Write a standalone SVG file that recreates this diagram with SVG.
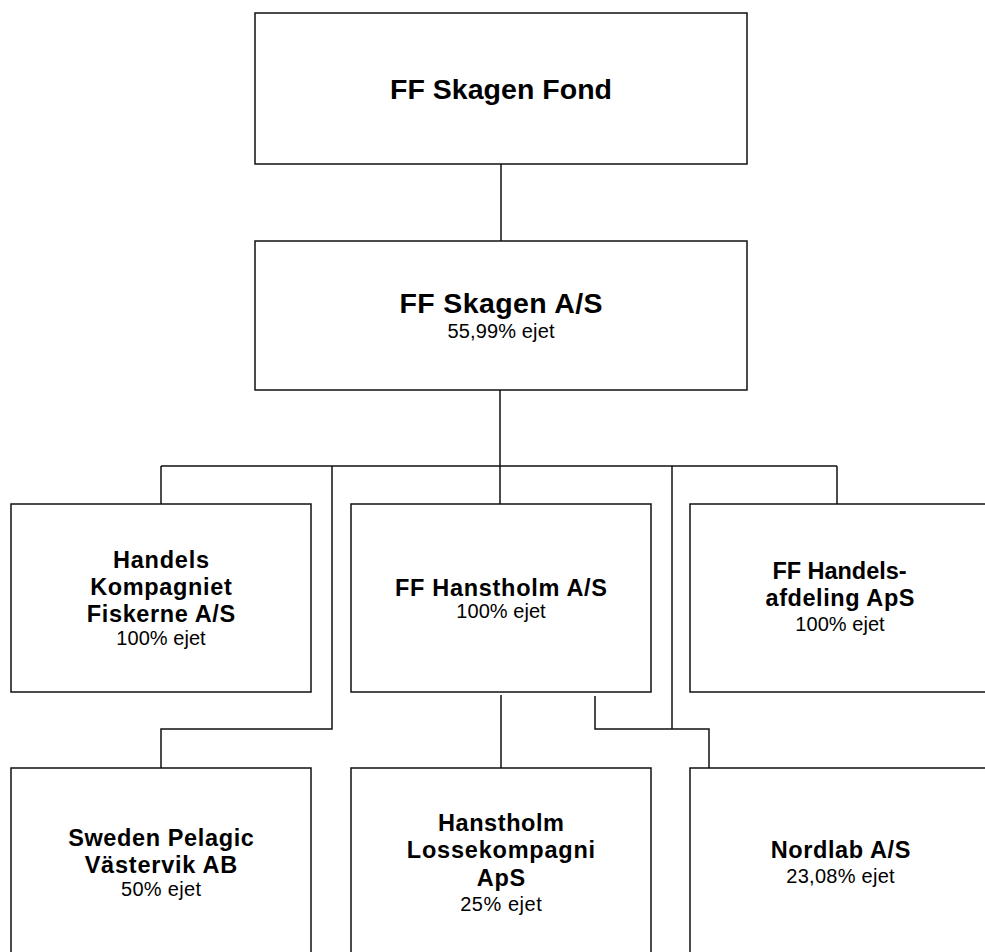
<svg xmlns="http://www.w3.org/2000/svg" width="985" height="952" viewBox="0 0 985 952">
<style>
.box{fill:#fff;stroke:#111;stroke-width:1.5}
.ln{fill:none;stroke:#111;stroke-width:1.5}
text{font-family:"Liberation Sans",Arial,sans-serif;fill:#000;text-anchor:middle}
.t1{font-size:28.5px;font-weight:bold}
.t2{font-size:23.5px;font-weight:bold}
.s1{font-size:20px}
.s2{font-size:20px}
</style>
<rect width="985" height="952" fill="#fff"/>
<g id="connectors">
<path class="ln" d="M501,164V241"/>
<path class="ln" d="M500,390V504"/>
<path class="ln" d="M161,466H837"/>
<path class="ln" d="M161,466V504"/>
<path class="ln" d="M837,466V504"/>
<path class="ln" d="M332,466V729H161V768"/>
<path class="ln" d="M672,466V729"/>
<path class="ln" d="M595,696V729H709V768"/>
<path class="ln" d="M501,695V771"/>
</g>
<g id="ff-skagen-fond">
<rect class="box" x="255" y="13" width="492" height="151"/>
<text class="t1" x="501" y="99" textLength="222" lengthAdjust="spacing">FF Skagen Fond</text>
</g>
<g id="ff-skagen-as">
<rect class="box" x="255" y="241" width="492" height="149"/>
<text class="t1" x="501" y="312.5" textLength="203" lengthAdjust="spacing">FF Skagen A/S</text>
<text class="s1" x="501" y="338" textLength="107" lengthAdjust="spacing">55,99% ejet</text>
</g>
<g id="handels-kompagniet">
<rect class="box" x="11" y="504" width="300" height="188"/>
<text class="t2" x="161" y="567.5" textLength="96" lengthAdjust="spacing">Handels</text>
<text class="t2" x="161" y="595" textLength="141.7" lengthAdjust="spacing">Kompagniet</text>
<text class="t2" x="161" y="622" textLength="148.3" lengthAdjust="spacing">Fiskerne A/S</text>
<text class="s2" x="161" y="644.5" textLength="89.3" lengthAdjust="spacing">100% ejet</text>
</g>
<g id="ff-hanstholm">
<rect class="box" x="351" y="504" width="300" height="188"/>
<text class="t2" x="501" y="596" textLength="212" lengthAdjust="spacing">FF Hanstholm A/S</text>
<text class="s2" x="501" y="618" textLength="89.3" lengthAdjust="spacing">100% ejet</text>
</g>
<g id="ff-handelsafdeling">
<rect class="box" x="690" y="504" width="300" height="188"/>
<text class="t2" x="839.5" y="579" textLength="134" lengthAdjust="spacing">FF Handels-</text>
<text class="t2" x="840" y="605.5" textLength="149" lengthAdjust="spacing">afdeling ApS</text>
<text class="s2" x="840" y="630.5" textLength="89.3" lengthAdjust="spacing">100% ejet</text>
</g>
<g id="sweden-pelagic">
<rect class="box" x="11" y="768" width="300" height="200"/>
<text class="t2" x="161" y="846" textLength="185.7" lengthAdjust="spacing">Sweden Pelagic</text>
<text class="t2" x="161" y="872.7" textLength="152.7" lengthAdjust="spacing">Västervik AB</text>
<text class="s2" x="161" y="896" textLength="80" lengthAdjust="spacing">50% ejet</text>
</g>
<g id="hanstholm-lossekompagni">
<rect class="box" x="351" y="768" width="300" height="200"/>
<text class="t2" x="501" y="830.7" textLength="126" lengthAdjust="spacing">Hanstholm</text>
<text class="t2" x="501" y="858.3" textLength="188.3" lengthAdjust="spacing">Lossekompagni</text>
<text class="t2" x="501" y="886" textLength="48.3" lengthAdjust="spacing">ApS</text>
<text class="s2" x="501" y="911" textLength="81.7" lengthAdjust="spacing">25% ejet</text>
</g>
<g id="nordlab">
<rect class="box" x="690" y="768" width="300" height="200"/>
<text class="t2" x="840.5" y="858.3" textLength="139.7" lengthAdjust="spacing">Nordlab A/S</text>
<text class="s2" x="840.5" y="882.7" textLength="108.3" lengthAdjust="spacing">23,08% ejet</text>
</g>
</svg>
